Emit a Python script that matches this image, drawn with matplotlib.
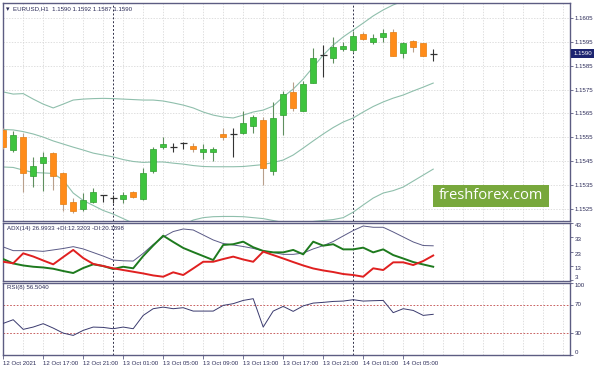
import numpy as np
import matplotlib.pyplot as plt
from matplotlib.patches import Rectangle

plt.rcParams['font.family'] = ['Liberation Sans', 'DejaVu Sans']

# EURUSD H1, 12 Oct 13:00 .. 14 Oct 08:00
opens = [1.15581, 1.15497, 1.15550, 1.15389, 1.15441, 1.15483, 1.15402, 1.15278, 1.15250, 1.15278,
         1.15309, 1.15297, 1.15291, 1.15320, 1.15291, 1.15409, 1.15508, 1.15511, 1.15525, 1.15514,
         1.15490, 1.15490, 1.15564, 1.15563, 1.15568, 1.15599, 1.15622, 1.15410, 1.15643, 1.15741,
         1.15660, 1.15778, 1.15894, 1.15881, 1.15918, 1.15917, 1.15982, 1.15950, 1.15971, 1.15992,
         1.15901, 1.15953, 1.15943, 1.15900]
highs = [1.15589, 1.15578, 1.15568, 1.15469, 1.15490, 1.15490, 1.15406, 1.15295, 1.15316, 1.15337,
         1.15309, 1.15309, 1.15322, 1.15325, 1.15420, 1.15511, 1.15550, 1.15527, 1.15532, 1.15525,
         1.15522, 1.15511, 1.15588, 1.15588, 1.15660, 1.15643, 1.15634, 1.15699, 1.15745, 1.15783,
         1.15785, 1.15922, 1.15936, 1.15971, 1.15950, 1.15996, 1.15991, 1.15981, 1.16002, 1.16002,
         1.15950, 1.15957, 1.15945, 1.15920]
lows = [1.15501, 1.15490, 1.15322, 1.15342, 1.15327, 1.15330, 1.15242, 1.15232, 1.15242, 1.15274,
        1.15279, 1.15274, 1.15276, 1.15296, 1.15288, 1.15399, 1.15500, 1.15490, 1.15500, 1.15490,
        1.15458, 1.15451, 1.15539, 1.15469, 1.15563, 1.15569, 1.15350, 1.15392, 1.15560, 1.15661,
        1.15660, 1.15776, 1.15801, 1.15860, 1.15912, 1.15908, 1.15959, 1.15940, 1.15950, 1.15890,
        1.15881, 1.15908, 1.15890, 1.15870]
closes = [1.15509, 1.15560, 1.15399, 1.15430, 1.15469, 1.15389, 1.15270, 1.15242, 1.15288, 1.15322,
          1.15309, 1.15297, 1.15309, 1.15299, 1.15399, 1.15500, 1.15522, 1.15511, 1.15525, 1.15500,
          1.15501, 1.15501, 1.15550, 1.15563, 1.15610, 1.15633, 1.15420, 1.15631, 1.15731, 1.15671,
          1.15773, 1.15881, 1.15894, 1.15929, 1.15932, 1.15974, 1.15961, 1.15964, 1.15985, 1.15891,
          1.15943, 1.15929, 1.15891, 1.15900]

bb_upper = [1.15740, 1.15731, 1.15733, 1.15710, 1.15689, 1.15673, 1.15689, 1.15706, 1.15710, 1.15712,
            1.15713, 1.15712, 1.15710, 1.15708, 1.15706, 1.15706, 1.15702, 1.15694, 1.15685, 1.15673,
            1.15656, 1.15643, 1.15635, 1.15631, 1.15643, 1.15656, 1.15664, 1.15681, 1.15719, 1.15752,
            1.15794, 1.15844, 1.15894, 1.15936, 1.15970, 1.15999, 1.16028, 1.16058, 1.16083, 1.16104,
            1.16120, 1.16137, 1.16150, 1.16162]
bb_middle = [1.15583, 1.15581, 1.15574, 1.15564, 1.15551, 1.15535, 1.15522, 1.15509, 1.15497, 1.15484,
             1.15476, 1.15468, 1.15457, 1.15449, 1.15445, 1.15447, 1.15447, 1.15442, 1.15438, 1.15432,
             1.15428, 1.15427, 1.15427, 1.15427, 1.15428, 1.15432, 1.15436, 1.15445, 1.15455, 1.15476,
             1.15505, 1.15535, 1.15564, 1.15591, 1.15614, 1.15631, 1.15656, 1.15679, 1.15698, 1.15714,
             1.15727, 1.15744, 1.15760, 1.15777]
bb_lower = [1.15426, 1.15424, 1.15413, 1.15403, 1.15401, 1.15399, 1.15371, 1.15317, 1.15286, 1.15265,
            1.15244, 1.15229, 1.15210, 1.15191, 1.15179, 1.15170, 1.15170, 1.15175, 1.15183, 1.15204,
            1.15214, 1.15218, 1.15219, 1.15219, 1.15218, 1.15214, 1.15210, 1.15202, 1.15194, 1.15189,
            1.15191, 1.15198, 1.15202, 1.15206, 1.15214, 1.15237, 1.15267, 1.15296, 1.15317, 1.15327,
            1.15342, 1.15367, 1.15392, 1.15417]

adx = [26.2, 23.6, 23.6, 23.6, 23.1, 24.1, 25.1, 26.4, 24.8, 22.3, 19.8, 17.0, 16.5, 16.3, 21.7,
       27.9, 33.2, 37.0, 38.8, 38.1, 34.6, 31.1, 28.6, 27.6, 26.5, 25.2, 23.4, 22.3, 21.0, 21.0,
       21.9, 24.8, 27.1, 30.0, 33.9, 37.7, 40.9, 40.0, 40.0, 36.7, 33.2, 29.7, 27.2, 27.0]
plus_di = [17.7, 14.6, 13.2, 12.3, 11.8, 10.9, 9.3, 7.9, 11.4, 14.0, 12.8, 10.7, 12.3, 11.2, 19.8,
           27.2, 34.1, 29.7, 25.5, 22.6, 19.8, 17.0, 27.6, 28.1, 29.9, 26.0, 23.4, 22.4, 22.4, 24.1,
           21.0, 29.9, 27.1, 28.1, 24.5, 24.5, 25.7, 22.4, 24.5, 20.5, 18.1, 15.6, 13.9, 12.3]
minus_di = [15.8, 14.7, 21.7, 19.5, 16.7, 14.0, 19.1, 24.1, 18.4, 14.3, 12.8, 11.2, 10.0, 8.8, 7.6,
            6.2, 5.3, 8.4, 6.5, 11.1, 15.8, 15.8, 17.7, 19.4, 17.4, 15.8, 22.9, 20.5, 18.1, 15.6,
            13.2, 11.1, 9.7, 8.6, 7.2, 6.5, 5.3, 11.2, 10.0, 15.4, 15.4, 13.5, 16.3, 20.2]
rsi = [43.9, 49.0, 35.6, 38.8, 43.5, 37.4, 30.4, 27.2, 34.2, 38.8, 38.3, 36.5, 38.8, 36.5, 55.0,
       64.3, 66.5, 64.3, 65.7, 61.0, 61.0, 61.0, 68.9, 71.3, 75.8, 78.2, 38.8, 61.0, 67.5, 60.6,
       68.2, 72.1, 73.1, 74.4, 74.9, 76.8, 74.9, 75.4, 75.8, 58.8, 64.3, 61.9, 55.0, 56.5]

price_ticks = [1.1525, 1.1535, 1.1545, 1.1555, 1.1565, 1.1575, 1.1585, 1.1595, 1.1605]
adx_ticks = [3, 13, 23, 33, 43]
rsi_ticks = [0, 30, 70, 100]
time_pos = [0, 4, 8, 12, 16, 20, 24, 28, 32, 36, 40]
time_labels = ['12 Oct 2021', '12 Oct 17:00', '12 Oct 21:00', '13 Oct 01:00', '13 Oct 05:00',
               '13 Oct 09:00', '13 Oct 13:00', '13 Oct 17:00', '13 Oct 21:00', '14 Oct 01:00',
               '14 Oct 05:00']
day_breaks = [11, 35]

W, H = 597, 366
txt = '#2b2b58'
frame = '#5c5c82'
fs = 4.4

def rect(x0, y0, x1, y1):
    return [x0 / W, 1 - y1 / H, (x1 - x0) / W, (y1 - y0) / H]

fig = plt.figure(figsize=(W / 100, H / 100), dpi=100)
fig.patch.set_facecolor('white')
ax = fig.add_axes(rect(3, 3, 570, 221))
ax_adx = fig.add_axes(rect(3, 222.5, 570, 280.5), sharex=ax)
ax_rsi = fig.add_axes(rect(3, 283, 570, 355), sharex=ax)

x = np.arange(len(opens))
for a in (ax, ax_adx, ax_rsi):
    a.set_xlim(-0.02, 56.68)
    for s in a.spines.values():
        s.set_color(frame)
        s.set_linewidth(1)
    for k in range(2, 57, 2):
        a.axvline(k, color='#d2d2d2', lw=0.5, ls=(0, (2, 2)), zorder=0)
    for k in day_breaks:
        a.axvline(k, color='#303048', lw=0.7, ls=(0, (2, 2)), zorder=1)
    a.yaxis.tick_right()
    a.tick_params(axis='y', length=2, width=0.6, color=frame, labelsize=fs, labelcolor=txt, pad=1.5)
    a.tick_params(axis='x', bottom=False, labelbottom=False)

# main chart
for p in price_ticks:
    ax.axhline(p, color='#d2d2d2', lw=0.5, ls=(0, (2, 2)), zorder=0)
ax.plot(x, bb_upper, color='#8fbfac', lw=0.8, zorder=2)
ax.plot(x, bb_middle, color='#8fbfac', lw=0.8, zorder=2)
ax.plot(x, bb_lower, color='#8fbfac', lw=0.8, zorder=2)

for i in range(len(opens)):
    o, h, l, c = opens[i], highs[i], lows[i], closes[i]
    if c > o:
        ax.vlines(i, l, h, color='#5f8f5f', lw=0.8, zorder=3)
        ax.add_patch(Rectangle((i - 0.3, o), 0.6, c - o, facecolor='#3ec43e',
                               edgecolor='#2f9f2f', lw=0.5, zorder=4))
    elif c < o:
        ax.vlines(i, l, h, color='#b8a08c', lw=0.8, zorder=3)
        ax.add_patch(Rectangle((i - 0.3, c), 0.6, o - c, facecolor='#ff8c1a',
                               edgecolor='#e47d10', lw=0.5, zorder=4))
    else:
        ax.vlines(i, l, h, color='#333333', lw=0.8, zorder=3)
        ax.hlines(o, i - 0.35, i + 0.35, color='#333333', lw=0.9, zorder=4)

ax.set_ylim(1.15200, 1.16112)
ax.set_yticks(price_ticks)
ax.set_yticklabels(['%.4f' % p for p in price_ticks])

fig.text(573.5 / W, 1 - 53.3 / H, '1.1590', fontsize=fs, color='white', va='center', ha='left',
         bbox=dict(boxstyle='square,pad=0.35', fc='#1c2470', ec='none'))
fig.text(6 / W, 1 - 9 / H, '\u25be', fontsize=5, color=txt, va='center', family='DejaVu Sans')
fig.text(13 / W, 1 - 9 / H, 'EURUSD,H1  1.1590 1.1592 1.1587 1.1590', fontsize=fs, color=txt, va='center')

# watermark
fig.add_artist(Rectangle((433 / W, 1 - 207 / H), 116 / W, 22 / H, transform=fig.transFigure,
                         facecolor='#78a83c', edgecolor='none', zorder=5))
fig.text(491 / W, 1 - 195.5 / H, 'freshforex.com', fontsize=10.5, family='Open Sans',
         color='white', ha='center', va='center', zorder=6)

# ADX
ax_adx.plot(x, adx, color='#5a5a86', lw=0.7, zorder=3)
ax_adx.plot(x, plus_di, color='#1e7a1e', lw=1.4, zorder=3)
ax_adx.plot(x, minus_di, color='#e02020', lw=1.4, zorder=3)
ax_adx.set_ylim(2.65, 43.35)
ax_adx.set_yticks(adx_ticks)
ax_adx.set_yticklabels([str(v) for v in adx_ticks])
for lab, v in zip(ax_adx.get_yticklabels(), adx_ticks):
    lab.set_va('bottom' if v == 3 else 'top')
fig.text(7 / W, 1 - 228.5 / H, 'ADX(14) 26.9933 +DI:12.3203 -DI:20.1898', fontsize=fs, color=txt, va='center')

# RSI
ax_rsi.axhline(70, color='#c04848', lw=0.6, ls=(0, (2, 2)), zorder=1)
ax_rsi.axhline(30, color='#c04848', lw=0.6, ls=(0, (2, 2)), zorder=1)
ax_rsi.plot(x, rsi, color='#3a3a6e', lw=0.7, zorder=3)
ax_rsi.set_ylim(0, 100)
ax_rsi.set_yticks(rsi_ticks)
ax_rsi.set_yticklabels([str(v) for v in rsi_ticks])
for lab, v in zip(ax_rsi.get_yticklabels(), rsi_ticks):
    lab.set_va({0: 'bottom', 100: 'top'}.get(v, 'center'))
fig.text(7 / W, 1 - 288 / H, 'RSI(8) 56.5040', fontsize=fs, color=txt, va='center')

ax_rsi.tick_params(axis='x', bottom=True, labelbottom=True, length=3, width=0.6, color=frame,
                   labelsize=fs, labelcolor=txt, pad=1)
ax_rsi.set_xticks(time_pos)
ax_rsi.set_xticklabels(time_labels, ha='left')

fig.savefig('out.png', dpi=100, facecolor='white')
